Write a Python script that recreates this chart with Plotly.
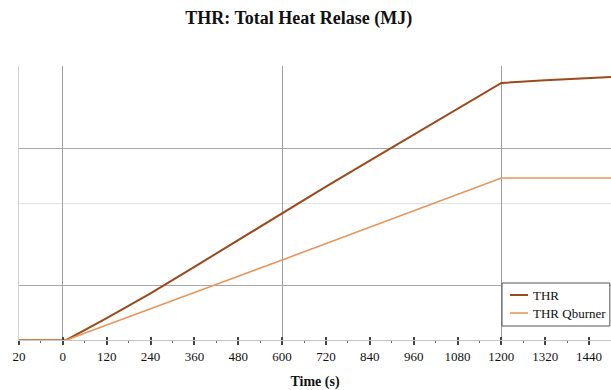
import plotly.graph_objects as go

time_s = [-120, 0, 10, 120, 240, 360, 480, 600, 720, 840, 960, 1080, 1200, 1320, 1440, 1500]
thr = [0, 0, 0, 8.0, 17.0, 26.7, 36.5, 46.4, 56.0, 65.5, 75.0, 84.5, 93.8, 94.8, 95.5, 96.0]
thr_qburner = [0, 0, 0, 5.5, 11.5, 17.4, 23.3, 29.2, 35.2, 41.2, 47.1, 53.1, 59.1, 59.1, 59.1, 59.1]

x_tickvals = [-120, 0, 120, 240, 360, 480, 600, 720, 840, 960, 1080, 1200, 1320, 1440]
x_ticktext = ["20", "0", "120", "240", "360", "480", "600", "720", "840", "960", "1080", "1200", "1320", "1440"]
x_gridvals = [0, 600, 1200]
y_gridvals_major = [20, 70]
y_gridvals_minor = [50]

series_names = ["THR", "THR Qburner"]
series_colors = ["#9a4a1c", "#e8955a"]
series_widths = [2, 1.6]

serif = "Liberation Serif, Times New Roman, serif"
x_range = [-120, 1500]

fig = go.Figure()
# invisible helper trace so the overlay axis (inside tick marks) is drawn
fig.add_trace(go.Scatter(x=time_s, y=thr, xaxis="x2", mode="lines",
                         line=dict(width=0, color="rgba(0,0,0,0)"),
                         showlegend=False, hoverinfo="skip"))
for name, ys, col, w in zip(series_names, [thr, thr_qburner], series_colors, series_widths):
    fig.add_trace(go.Scatter(x=time_s, y=ys, mode="lines", name=name,
                             line=dict(color=col, width=w), showlegend=False))

# manual legend (short line symbols like the reference)
shapes = [dict(type="rect", xref="paper", yref="paper", x0=0.8159, x1=0.998, y0=0.051, y1=0.208,
               line=dict(color="#555", width=1), fillcolor="white", layer="above")]
annotations = []
legend_rows = [0.1642, 0.0985]
for name, col, w, yy in zip(series_names, series_colors, series_widths, legend_rows):
    shapes.append(dict(type="line", xref="paper", yref="paper", x0=0.8294, x1=0.8598, y0=yy, y1=yy,
                       line=dict(color=col, width=w), layer="above"))
    annotations.append(dict(text=name, xref="paper", yref="paper", x=0.8649, y=yy,
                            xanchor="left", yanchor="middle", showarrow=False,
                            font=dict(family=serif, size=13, color="#111")))

fig.update_layout(
    width=611, height=390,
    margin=dict(l=19, r=0, t=66, b=50),
    paper_bgcolor="white", plot_bgcolor="white",
    font=dict(family=serif, color="#111", size=12),
    title=dict(text="<b>THR: Total Heat Relase (MJ)</b>", x=0.489, xref="container",
               xanchor="center", y=0.954, yanchor="middle",
               font=dict(family=serif, size=18, color="#111")),
    showlegend=False,
    shapes=shapes,
    annotations=annotations,
    xaxis=dict(range=x_range, tickvals=x_tickvals, ticktext=x_ticktext,
               showgrid=False, zeroline=False,
               showline=True, linecolor="#c8c8c8", linewidth=1,
               ticks="outside", ticklen=4, tickwidth=1.5, tickcolor="#444",
               tickfont=dict(family=serif, size=13, color="#111"),
               minor=dict(dtick=60, tick0=-120, ticks="outside", ticklen=2, tickwidth=1,
                          tickcolor="#666", showgrid=False),
               title=dict(text="<b>Time (s)</b>", standoff=14,
                          font=dict(family=serif, size=14, color="#111"))),
    xaxis2=dict(range=x_range, overlaying="x", side="bottom", anchor="y",
                tickvals=x_tickvals, showticklabels=False, showgrid=False, zeroline=False,
                showline=False, ticks="inside", ticklen=3, tickwidth=1.5, tickcolor="#444",
                minor=dict(tickvals=x_gridvals, showgrid=True, gridcolor="#a0a0a0",
                           gridwidth=1.2, ticklen=0)),
    yaxis=dict(range=[0, 100], tickvals=y_gridvals_major, showticklabels=False,
               showgrid=True, gridcolor="#a8a8a8", gridwidth=1.2, zeroline=False,
               showline=True, linecolor="#d0d0d0", linewidth=1, ticks="",
               minor=dict(tickvals=y_gridvals_minor, showgrid=True, gridcolor="#e2e2e2",
                          gridwidth=1, ticklen=0)),
)

fig.write_html("out.html")
